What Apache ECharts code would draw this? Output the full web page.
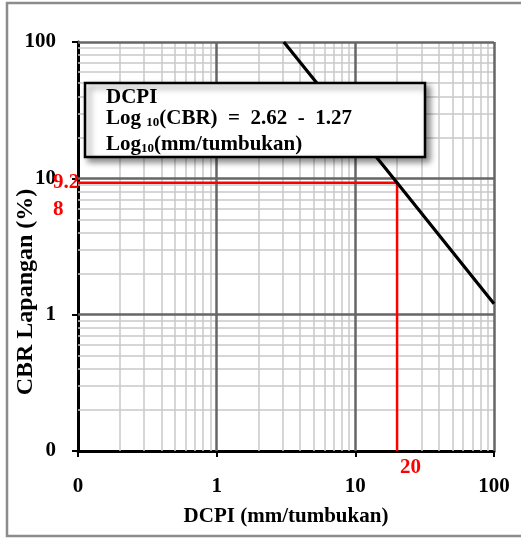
<!DOCTYPE html>
<html><head><meta charset="utf-8">
<script src="https://cdn.jsdelivr.net/npm/echarts@6/dist/echarts.min.js"></script>
<style>html,body{margin:0;padding:0;background:#fff}#c{width:521px;height:538px}</style>
</head><body><div id="c"></div>
<script>
// ---- data ----
const xDecades = [0.1, 1, 10, 100];
const yDecades = [0.1, 1, 10, 100];
const minorFactors = [2, 3, 4, 5, 6, 7, 8, 9];
const tickText = ['0', '1', '10', '100'];
const dcpiLine = [[3.05, 100], [20, 9.28], [100, 1.2]];
const readX = 20;
const readY = 9.28;
const readPath = [[0.1, readY], [readX, readY], [readX, 0.1]];
const xName = 'DCPI (mm/tumbukan)';
const yName = 'CBR Lapangan (%)';
const eqTitle = 'DCPI';
const eqA = '2.62';
const eqB = '1.27';

const FONT = 'Liberation Serif';
const minorVals = [];
xDecades.slice(0, 3).forEach(d => minorFactors.forEach(f => minorVals.push(+(d * f).toPrecision(3))));

function labelFmt(v) {
  let best = 0, bd = 1e9;
  xDecades.forEach((d, i) => { const e = Math.abs(Math.log10(v) - Math.log10(d)); if (e < bd) { bd = e; best = i; } });
  return tickText[best];
}

const minorStyle = { color: '#c8c8c8', width: 1.5, type: 'solid' };
const majorStyle = { color: '#666666', width: 2.5, type: 'solid' };
const minorLines = [];
const majorLines = [];
minorVals.forEach(v => { minorLines.push({ xAxis: v }); minorLines.push({ yAxis: v }); });
xDecades.slice(1).forEach(v => majorLines.push({ xAxis: v }));
yDecades.slice(1).forEach(v => majorLines.push({ yAxis: v }));

const axisCommon = {
  type: 'log', logBase: 10, min: 0.1, max: 100, splitNumber: 3,
  axisLine: { show: true, lineStyle: { color: '#000', width: 3 } },
  axisTick: { show: true, inside: false, length: 6, lineStyle: { color: '#000', width: 2 } },
  splitLine: { show: false },
  minorTick: { show: false },
  axisLabel: { formatter: labelFmt, fontFamily: FONT, fontWeight: 'bold', fontSize: 21, color: '#000' }
};

const chart = echarts.init(document.getElementById('c'), null, { renderer: 'canvas' });
const option = {
  animation: false,
  backgroundColor: '#fff',
  grid: { left: 78, right: 27, top: 42, bottom: 87, containLabel: false },
  xAxis: Object.assign({}, axisCommon, {
    name: xName, nameLocation: 'middle', nameGap: 55,
    nameTextStyle: { fontFamily: FONT, fontWeight: 'bold', fontSize: 21, color: '#000' },
    axisLabel: Object.assign({}, axisCommon.axisLabel, { margin: 25 })
  }),
  yAxis: Object.assign({}, axisCommon, {
    axisLabel: Object.assign({}, axisCommon.axisLabel, { margin: 22 })
  }),
  series: [
    {
      type: 'line', z: 1, data: [], symbol: 'none', silent: true,
      markLine: { z: 1, silent: true, symbol: 'none', label: { show: false }, animation: false,
        lineStyle: minorStyle, data: minorLines }
    },
    {
      type: 'line', z: 1, data: [], symbol: 'none', silent: true,
      markLine: { z: 1, silent: true, symbol: 'none', label: { show: false }, animation: false,
        lineStyle: majorStyle, data: majorLines }
    },
    {
      type: 'line', z: 6, data: readPath, symbol: 'none', silent: true,
      lineStyle: { color: '#ff0000', width: 2.5 }
    },
    {
      type: 'line', z: 7, data: dcpiLine, symbol: 'none', silent: true,
      lineStyle: { color: '#000', width: 3.2 }
    }
  ]
};
chart.setOption(option);

const pY = chart.convertToPixel({ gridIndex: 0 }, [0.1, readY]);
const pX = chart.convertToPixel({ gridIndex: 0 }, [readX, 0.1]);
const yStr = String(readY);

const b = { fontFamily: FONT, fontWeight: 'bold', fontSize: 21, lineHeight: 21, fill: '#000' };
chart.setOption({
  graphic: [
    { type: 'rect', z: 0, silent: true, shape: { x: 7, y: 3, width: 520, height: 533 },
      style: { fill: 'none', stroke: '#8c8c8c', lineWidth: 2.5 } },
    { type: 'text', z: 10, silent: true, x: 26, y: 292, rotation: Math.PI / 2,
      style: { text: yName, fontFamily: FONT, fontWeight: 'bold', fontSize: 24, fill: '#000', align: 'center', verticalAlign: 'middle' } },
    { type: 'rect', z: 20, silent: true, shape: { x: 85, y: 83, width: 340, height: 74 },
      style: { fill: '#fff', stroke: '#000', lineWidth: 2.5, shadowBlur: 6, shadowOffsetX: 4, shadowOffsetY: 4, shadowColor: 'rgba(0,0,0,0.45)' } },
    { type: 'text', z: 21, silent: true, x: 106, y: 98,
      style: { text: eqTitle, font: 'bold 21px "Liberation Serif"', fill: '#000', align: 'left', verticalAlign: 'middle' } },
    { type: 'text', z: 21, silent: true, x: 106, y: 119,
      style: { text: '{b|Log }{s|10}{b|(CBR)  =  ' + eqA + '  -  ' + eqB + '}', align: 'left', verticalAlign: 'middle',
        rich: { b: b, s: { fontFamily: FONT, fontWeight: 'bold', fontSize: 13, lineHeight: 13, verticalAlign: 'bottom', fill: '#000' } } } },
    { type: 'text', z: 21, silent: true, x: 106, y: 145,
      style: { text: '{b|Log}{s|10}{b|(mm/tumbukan)}', align: 'left', verticalAlign: 'middle',
        rich: { b: b, s: { fontFamily: FONT, fontWeight: 'bold', fontSize: 13, lineHeight: 8, verticalAlign: 'bottom', fill: '#000' } } } },
    { type: 'text', z: 22, silent: true, x: pY[0] - 25, y: pY[1] - 14,
      style: { text: yStr.slice(0, 3) + '\n' + yStr.slice(3), fontFamily: FONT, fontWeight: 'bold', fontSize: 21, lineHeight: 27, fill: '#ff0000', align: 'left', verticalAlign: 'top' } },
    { type: 'text', z: 22, silent: true, x: pX[0] + 3, y: pX[1] + 17,
      style: { text: String(readX), fontFamily: FONT, fontWeight: 'bold', fontSize: 21, fill: '#ff0000', align: 'left', verticalAlign: 'middle' } }
  ]
});
</script>
</body></html>
